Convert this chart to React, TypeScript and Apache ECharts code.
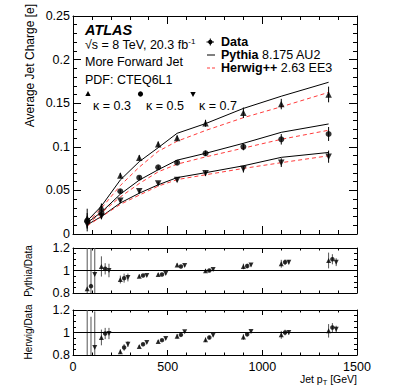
import React, { useEffect, useRef } from "react";
import * as echarts from "echarts";

// Jet pT bin centres [GeV]
const binCenters = [75, 150, 250, 350, 450, 550, 700, 900, 1100, 1350];
// stagger of the kappa points in the ratio panels [GeV]
const ratioOffsets = [0, 20, 40];

// Data: average jet charge
const data03 = [0.018, 0.031, 0.067, 0.0875, 0.103, 0.110, 0.127, 0.139, 0.149, 0.160];
const data05 = [0.015, 0.0245, 0.049, 0.0646, 0.0765, 0.0818, 0.0925, 0.100, 0.1086, 0.1147];
const data07 = [0.011, 0.020, 0.038, 0.049, 0.058, 0.062, 0.0696, 0.0745, 0.0818, 0.0887];
const err03 = [0.011, 0.004, 0.003, 0.003, 0.003, 0.003, 0.004, 0.006, 0.006, 0.009];
const err05 = [0.009, 0.003, 0.002, 0.002, 0.002, 0.002, 0.003, 0.004, 0.006, 0.008];
const err07 = [0.008, 0.003, 0.002, 0.002, 0.002, 0.002, 0.003, 0.004, 0.005, 0.007];

// Pythia 8.175 AU2
const pythia03 = [0.015, 0.032, 0.062, 0.083, 0.099, 0.1155, 0.1266, 0.144, 0.158, 0.174];
const pythia05 = [0.013, 0.025, 0.0457, 0.0618, 0.0737, 0.0847, 0.0925, 0.104, 0.1166, 0.1262];
const pythia07 = [0.0106, 0.020, 0.0356, 0.0468, 0.0564, 0.0647, 0.0703, 0.0782, 0.0879, 0.0935];
// Herwig++ 2.63 EE3
const herwig03 = [0.013, 0.0296, 0.0556, 0.0767, 0.0948, 0.1064, 0.1187, 0.1334, 0.1459, 0.1624];
const herwig05 = [0.011, 0.0243, 0.0425, 0.0579, 0.0713, 0.0801, 0.0884, 0.0985, 0.1086, 0.119];
const herwig07 = [0.0095, 0.0198, 0.034, 0.0446, 0.0549, 0.0624, 0.0679, 0.0752, 0.0818, 0.0897];

// Pythia / Data
const pyRatio03 = [0.837, 1.036, 0.92, 0.95, 0.964, 1.05, 0.997, 1.036, 1.06, 1.089];
const pyRatio05 = [0.861, 1.015, 0.932, 0.956, 0.964, 1.036, 1.0, 1.04, 1.074, 1.10];
const pyRatio07 = [0.964, 1.0, 0.938, 0.956, 0.973, 1.044, 1.01, 1.05, 1.074, 1.074];
const pyRatioErr03 = [0.5, 0.09, 0.035, 0.015, 0.012, 0.015, 0.015, 0.025, 0.035, 0.07];
const pyRatioErr05 = [0.5, 0.05, 0.04, 0.01, 0.01, 0.01, 0.012, 0.02, 0.025, 0.045];
const pyRatioErr07 = [0.45, 0.06, 0.035, 0.01, 0.01, 0.01, 0.012, 0.015, 0.02, 0.035];
// Herwig / Data
const hwRatio03 = [0.72, 0.956, 0.83, 0.876, 0.92, 0.967, 0.935, 0.96, 0.979, 1.015];
const hwRatio05 = [0.78, 0.991, 0.867, 0.896, 0.932, 0.979, 0.956, 0.985, 1.0, 1.044];
const hwRatio07 = [0.867, 0.991, 0.896, 0.911, 0.947, 1.006, 0.976, 1.009, 1.0, 1.03];
const hwRatioErr03 = [0.5, 0.07, 0.02, 0.012, 0.012, 0.02, 0.02, 0.025, 0.035, 0.06];
const hwRatioErr05 = [0.36, 0.05, 0.03, 0.01, 0.01, 0.01, 0.015, 0.02, 0.025, 0.04];
const hwRatioErr07 = [0.32, 0.05, 0.025, 0.01, 0.01, 0.01, 0.012, 0.015, 0.02, 0.03];

const xTicks = [0, 500, 1000, 1500];
const FONT = '"Liberation Sans", Arial, Helvetica, sans-serif';
const RED = "#ff3c3c";

type Marker = { symbol: string; rotate: number };
const markers: Marker[] = [
  { symbol: "triangle", rotate: 0 },
  { symbol: "circle", rotate: 0 },
  { symbol: "triangle", rotate: 180 },
];

function errorBars(xs: number[], ys: number[], es: number[], axis: number, color: string) {
  return {
    type: "custom",
    xAxisIndex: axis * 2,
    yAxisIndex: axis * 2,
    clip: true,
    z: 3,
    silent: true,
    data: xs.map((x, i) => [x, ys[i] - es[i], ys[i] + es[i]]),
    renderItem: (params: any, api: any) => {
      const a = api.coord([api.value(0), api.value(1)]);
      const b = api.coord([api.value(0), api.value(2)]);
      const cs = params.coordSys;
      const lo = cs.y;
      const hi = cs.y + cs.height;
      const y1 = Math.min(Math.max(a[1], lo), hi);
      const y2 = Math.min(Math.max(b[1], lo), hi);
      return {
        type: "line",
        shape: { x1: a[0], y1, x2: b[0], y2 },
        style: { stroke: color, lineWidth: 1 },
      };
    },
  };
}

function points(xs: number[], ys: number[], axis: number, k: number, size: number) {
  return {
    type: "scatter",
    xAxisIndex: axis * 2,
    yAxisIndex: axis * 2,
    clip: true,
    z: 4,
    silent: true,
    symbol: markers[k].symbol,
    symbolRotate: markers[k].rotate,
    symbolSize: markers[k].symbol === "circle" ? size - 0.5 : size,
    itemStyle: { color: "#000" },
    data: xs.map((x, i) => [x, ys[i]]),
  };
}

function curve(ys: number[], color: string, dashed: boolean) {
  return {
    type: "line",
    xAxisIndex: 0,
    yAxisIndex: 0,
    symbol: "none",
    showSymbol: false,
    silent: true,
    z: 2,
    lineStyle: { color, width: 1, type: dashed ? [4, 3] : "solid" },
    data: binCenters.map((x, i) => [x, ys[i]]),
  };
}

function xAxes(grid: number, showLabel: boolean, tickLen: number) {
  const base = {
    type: "value",
    gridIndex: grid,
    min: xTicks[0],
    max: xTicks[xTicks.length - 1],
    interval: 500,
    axisLine: { show: true, onZero: false, lineStyle: { color: "#000", width: 1 } },
    axisTick: { show: true, inside: true, length: tickLen, lineStyle: { color: "#000" } },
    minorTick: { show: true, splitNumber: 5, length: tickLen / 2, lineStyle: { color: "#000" } },
    splitLine: { show: false },
    minorSplitLine: { show: false },
  };
  return [
    {
      ...base,
      position: "bottom",
      axisLabel: {
        show: showLabel,
        color: "#000",
        fontSize: 12.5,
        fontFamily: FONT,
        margin: 5,
        showMinLabel: true,
        showMaxLabel: true,
        formatter: (v: number) => String(v),
      },
    },
    { ...base, position: "top", axisLabel: { show: false } },
  ];
}

function yAxes(grid: number, min: number, max: number, interval: number, minorSplit: number, tickLen: number, fontSize: number) {
  const base = {
    type: "value",
    gridIndex: grid,
    min,
    max,
    interval,
    axisLine: { show: true, onZero: false, lineStyle: { color: "#000", width: 1 } },
    axisTick: { show: true, inside: true, length: tickLen, lineStyle: { color: "#000" } },
    minorTick: { show: true, splitNumber: minorSplit, length: tickLen / 2, lineStyle: { color: "#000" } },
    splitLine: { show: false },
    minorSplitLine: { show: false },
  };
  return [
    {
      ...base,
      position: "left",
      axisLabel: {
        show: true,
        color: "#000",
        fontSize,
        fontFamily: FONT,
        margin: 3,
        showMinLabel: true,
        showMaxLabel: true,
      },
    },
    { ...base, position: "right", axisLabel: { show: false } },
  ];
}

function txt(x: number, y: number, text: string, extra: any = {}, rotation = 0) {
  return {
    type: "text",
    x,
    y,
    rotation,
    silent: true,
    style: {
      text,
      fill: "#000",
      fontFamily: FONT,
      fontSize: 12.5,
      align: "left",
      verticalAlign: "middle",
      textAlign: "left",
      textVerticalAlign: "middle",
      ...extra,
    },
  };
}

export default function App() {
  const ref = useRef<HTMLDivElement>(null);

  useEffect(() => {
    if (!ref.current) return;
    const chart = echarts.init(ref.current, null, { renderer: "svg" });

    const dataSets = [data03, data05, data07];
    const dataErrs = [err03, err05, err07];
    const pySets = [pythia03, pythia05, pythia07];
    const hwSets = [herwig03, herwig05, herwig07];
    const pyR = [pyRatio03, pyRatio05, pyRatio07];
    const pyRE = [pyRatioErr03, pyRatioErr05, pyRatioErr07];
    const hwR = [hwRatio03, hwRatio05, hwRatio07];
    const hwRE = [hwRatioErr03, hwRatioErr05, hwRatioErr07];

    const series: any[] = [];
    for (let k = 0; k < 3; k++) {
      series.push(curve(pySets[k], "#000", false));
      series.push(curve(hwSets[k], RED, true));
      series.push(errorBars(binCenters, dataSets[k], dataErrs[k], 0, "#000"));
      series.push(points(binCenters, dataSets[k], 0, k, 6.5));
      const rx = binCenters.map((c) => c + ratioOffsets[k]);
      series.push(errorBars(rx, pyR[k], pyRE[k], 1, "#555"));
      series.push(points(rx, pyR[k], 1, k, 5));
      series.push(errorBars(rx, hwR[k], hwRE[k], 2, "#555"));
      series.push(points(rx, hwR[k], 2, k, 5));
    }
    // unity lines in the ratio panels
    [1, 2].forEach((g) => {
      series.push({
        type: "line",
        xAxisIndex: g * 2,
        yAxisIndex: g * 2,
        data: [],
        silent: true,
        markLine: {
          silent: true,
          symbol: "none",
          label: { show: false },
          lineStyle: { color: "#000", width: 1, type: "solid" },
          data: [{ yAxis: 1 }],
        },
      });
    });

    const ROT = Math.PI / 2;
    const graphic: any[] = [
      txt(30, 4, "Average Jet Charge [e]", { align: "right", textAlign: "right", fontSize: 12 }, ROT),
      txt(28, 271, "Pythia/Data", { align: "center", textAlign: "center", fontSize: 10 }, ROT),
      txt(28, 332, "Herwig/Data", { align: "center", textAlign: "center", fontSize: 10 }, ROT),
      txt(85, 30, "ATLAS", { fontSize: 14.5, fontWeight: "bold", fontStyle: "italic" }),
      txt(85, 45, "{n|√s = 8 TeV, 20.3 fb}{s|-1}", {
        rich: {
          n: { fontSize: 12.5, fontFamily: FONT, fill: "#000" },
          s: { fontSize: 8, fontFamily: FONT, fill: "#000", padding: [0, 0, 8, 0] },
        },
      }),
      txt(85, 62, "More Forward Jet"),
      txt(85, 80, "PDF: CTEQ6L1"),
      txt(93, 106, "κ = 0.3"),
      txt(146, 106, "κ = 0.5"),
      txt(199, 106, "κ = 0.7"),
      txt(221, 42, "Data", { fontWeight: "bold" }),
      txt(221, 55, "{b|Pythia}{n| 8.175 AU2}", {
        rich: {
          b: { fontSize: 12.5, fontFamily: FONT, fontWeight: "bold", fill: "#000" },
          n: { fontSize: 12.5, fontFamily: FONT, fill: "#000" },
        },
      }),
      txt(221, 68, "{b|Herwig++}{n| 2.63 EE3}", {
        rich: {
          b: { fontSize: 12.5, fontFamily: FONT, fontWeight: "bold", fill: "#000" },
          n: { fontSize: 12.5, fontFamily: FONT, fill: "#000" },
        },
      }),
      txt(357, 379, "{n|Jet p}{s|T}{n| [GeV]}", {
        align: "right",
        textAlign: "right",
        rich: {
          n: { fontSize: 10.5, fontFamily: FONT, fill: "#000" },
          s: { fontSize: 7.5, fontFamily: FONT, fill: "#000", padding: [6, 0, 0, 0] },
        },
      }),
      // kappa markers
      { type: "polygon", silent: true, shape: { points: [[88, 91], [85.3, 96], [90.7, 96]] }, style: { fill: "#000" } },
      { type: "circle", silent: true, shape: { cx: 140.5, cy: 94, r: 2.6 }, style: { fill: "#000" } },
      { type: "polygon", silent: true, shape: { points: [[190.3, 92], [195.7, 92], [193, 97]] }, style: { fill: "#000" } },
      // legend: data
      { type: "line", silent: true, shape: { x1: 206.5, y1: 42, x2: 214, y2: 42 }, style: { stroke: "#000", lineWidth: 1 } },
      { type: "line", silent: true, shape: { x1: 210.3, y1: 38.5, x2: 210.3, y2: 45.5 }, style: { stroke: "#000", lineWidth: 1 } },
      { type: "circle", silent: true, shape: { cx: 210.3, cy: 42, r: 2.2 }, style: { fill: "#000" } },
      // legend: pythia, herwig
      { type: "line", silent: true, shape: { x1: 207, y1: 55, x2: 215, y2: 55 }, style: { stroke: "#000", lineWidth: 1 } },
      { type: "line", silent: true, shape: { x1: 207, y1: 68, x2: 216, y2: 68 }, style: { stroke: RED, lineWidth: 1, lineDash: [3, 2] } },
    ];

    chart.setOption({
      animation: false,
      backgroundColor: "#fff",
      textStyle: { fontFamily: FONT },
      grid: [
        { left: 73, top: 16, width: 284, height: 218 },
        { left: 73, top: 248, width: 284, height: 45 },
        { left: 73, top: 310, width: 284, height: 45 },
      ],
      xAxis: [...xAxes(0, false, 8), ...xAxes(1, false, 5), ...xAxes(2, true, 5)],
      yAxis: [
        ...yAxes(0, 0, 0.25, 0.05, 5, 8, 12.5),
        ...yAxes(1, 0.8, 1.2, 0.2, 4, 6, 12.5),
        ...yAxes(2, 0.8, 1.2, 0.2, 4, 6, 12.5),
      ],
      series,
      graphic,
    });

    return () => chart.dispose();
  }, []);

  return (
    <div
      ref={ref}
      style={{ position: "absolute", left: 0, top: 0, width: 399, height: 386, background: "#fff" }}
    />
  );
}
